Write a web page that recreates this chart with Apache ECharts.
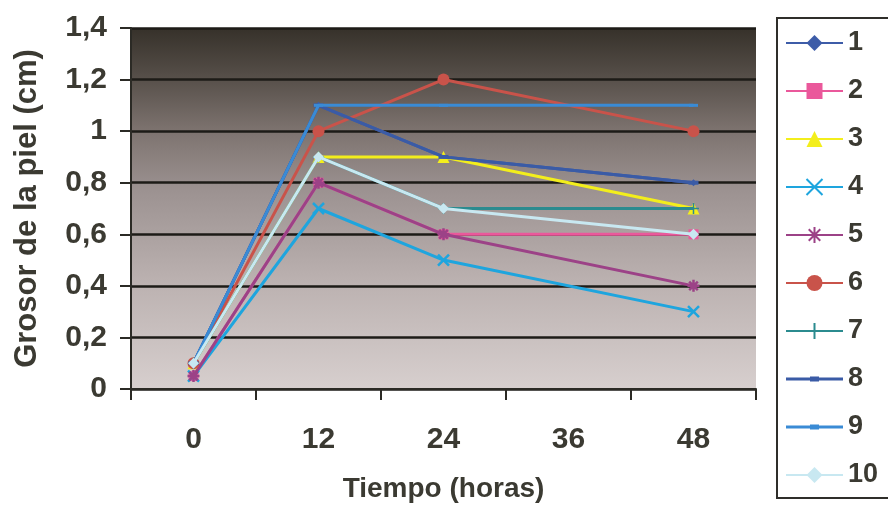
<!DOCTYPE html>
<html>
<head>
<meta charset="utf-8">
<script src="https://cdn.jsdelivr.net/npm/echarts@6/dist/echarts.min.js"></script>
<style>
  html, body { margin: 0; padding: 0; background: #ffffff; }
  #chart { width: 888px; height: 516px; }
</style>
</head>
<body>
<div id="chart"></div>
<script>
// Skin thickness (cm) over time for ten samples
const hours = ['0', '12', '24', '36', '48'];
const s1  = [0.1,  1.1, 0.9, null, 0.8];
const s2  = [0.05, 0.8, 0.6, null, 0.6];
const s3  = [0.1,  0.9, 0.9, null, 0.7];
const s4  = [0.05, 0.7, 0.5, null, 0.3];
const s5  = [0.05, 0.8, 0.6, null, 0.4];
const s6  = [0.1,  1.0, 1.2, null, 1.0];
const s7  = [0.1,  0.9, 0.7, null, 0.7];
const s8  = [0.1,  1.1, 0.9, null, 0.8];
const s9  = [0.1,  1.1, 1.1, null, 1.1];
const s10 = [0.1,  0.9, 0.7, null, 0.6];
const seriesNames = ['1', '2', '3', '4', '5', '6', '7', '8', '9', '10'];
const yTicks = { min: 0, max: 1.4, step: 0.2 };

const TEXT = '#3b3a32';
const FONT = 'Liberation Sans, Arial, sans-serif';

const CROSS = 'path://M0,0L10,10M10,0L0,10';
const STAR = 'path://M5,0L5,10M0,5L10,5M1.4,1.4L8.6,8.6M8.6,1.4L1.4,8.6';
const PLUS = 'path://M5,0L5,10M0,5L10,5';
// legend glyph: line with a small dash marker, framed to the 57x20 icon box
const DASH_ICON = 'path://M0,0L0.01,0L0.01,0.01Z M57,20L56.99,20L56.99,19.99Z ' +
  'M0,8.5L57,8.5L57,11.5L0,11.5Z M24,7.5L33,7.5L33,12.5L24,12.5Z';

const styles = [
  { color: '#3d5ca8', symbol: 'diamond', size: 7 },
  { color: '#ea589b', symbol: 'rect', size: 10 },
  { color: '#f3ee1c', symbol: 'triangle', size: 12 },
  { color: '#1ea5de', symbol: CROSS, size: 11, stroke: 2.5 },
  { color: '#9c4287', symbol: STAR, size: 12, stroke: 2.5 },
  { color: '#c9534a', symbol: 'circle', size: 12 },
  { color: '#2b8b8f', symbol: PLUS, size: 11, stroke: 1.5 },
  { color: '#3a5ba6', symbol: 'rect', size: [10, 4], legendIcon: DASH_ICON },
  { color: '#3a8bd5', symbol: 'rect', size: [9, 3], legendIcon: DASH_ICON },
  { color: '#c8e8f1', symbol: 'diamond', size: 11 }
];
const values = [s1, s2, s3, s4, s5, s6, s7, s8, s9, s10];

const series = values.map((data, i) => {
  const st = styles[i];
  return {
    name: seriesNames[i],
    type: 'line',
    data: data,
    connectNulls: true,
    symbol: st.symbol,
    symbolSize: st.size,
    showAllSymbol: true,
    lineStyle: { color: st.color, width: 3 },
    itemStyle: st.stroke
      ? { color: st.color, borderColor: st.color, borderWidth: st.stroke }
      : { color: st.color, borderWidth: 0 },
    emphasis: { disabled: true },
    z: 2 + i
  };
});

const legendData = seriesNames.map((n, i) =>
  styles[i].legendIcon ? { name: n, icon: styles[i].legendIcon } : { name: n });

const chart = echarts.init(document.getElementById('chart'), null, { renderer: 'canvas' });
chart.setOption({
  animation: false,
  backgroundColor: '#ffffff',
  textStyle: { fontFamily: FONT },
  grid: {
    left: 131, right: 132, top: 28, bottom: 127,
    show: true,
    borderWidth: 0,
    backgroundColor: new echarts.graphic.LinearGradient(0, 0, 0, 1, [
      { offset: 0, color: '#36312a' },
      { offset: 0.12, color: '#524b45' },
      { offset: 0.28, color: '#7c726e' },
      { offset: 0.45, color: '#9c9291' },
      { offset: 0.7, color: '#bbb1b0' },
      { offset: 1, color: '#d7cfce' }
    ])
  },
  legend: {
    orient: 'vertical',
    left: 777,
    top: 18,
    padding: [11, 40, 9, 8],
    itemWidth: 57,
    itemHeight: 20,
    itemGap: 20,
    borderColor: '#2f2e2a',
    borderWidth: 2,
    backgroundColor: '#ffffff',
    selectedMode: false,
    data: legendData,
    textStyle: {
      color: TEXT, fontSize: 27, fontWeight: 'bold', fontFamily: FONT,
      lineHeight: 28, padding: [0, 0, 0, 0]
    }
  },
  xAxis: {
    type: 'category',
    data: hours,
    boundaryGap: true,
    name: 'Tiempo (horas)',
    nameLocation: 'middle',
    nameGap: 86,
    nameTextStyle: { color: TEXT, fontSize: 28, fontWeight: 'bold', fontFamily: FONT },
    axisLine: { lineStyle: { color: '#2b2a25', width: 2 } },
    axisTick: { show: true, length: 11, lineStyle: { color: '#2b2a25', width: 2 } },
    axisLabel: { color: TEXT, fontSize: 30, fontWeight: 'bold', margin: 36, fontFamily: FONT },
    splitLine: { show: false }
  },
  yAxis: {
    type: 'value',
    min: yTicks.min,
    max: yTicks.max,
    interval: yTicks.step,
    name: 'Grosor de la piel (cm)',
    nameLocation: 'middle',
    nameRotate: 90,
    nameGap: 88,
    nameTextStyle: { color: TEXT, fontSize: 31, fontWeight: 'bold', fontFamily: FONT },
    axisLine: { show: true, lineStyle: { color: '#2b2a25', width: 2 } },
    axisTick: { show: true, length: 11, lineStyle: { color: '#2b2a25', width: 2 } },
    axisLabel: {
      color: TEXT, fontSize: 30, fontWeight: 'bold', margin: 24, fontFamily: FONT,
      formatter: v => String(Math.round(v * 10) / 10).replace('.', ',')
    },
    splitLine: { show: true, lineStyle: { color: '#1d1b17', width: 2.5 } }
  },
  series: series
});
</script>
</body>
</html>
